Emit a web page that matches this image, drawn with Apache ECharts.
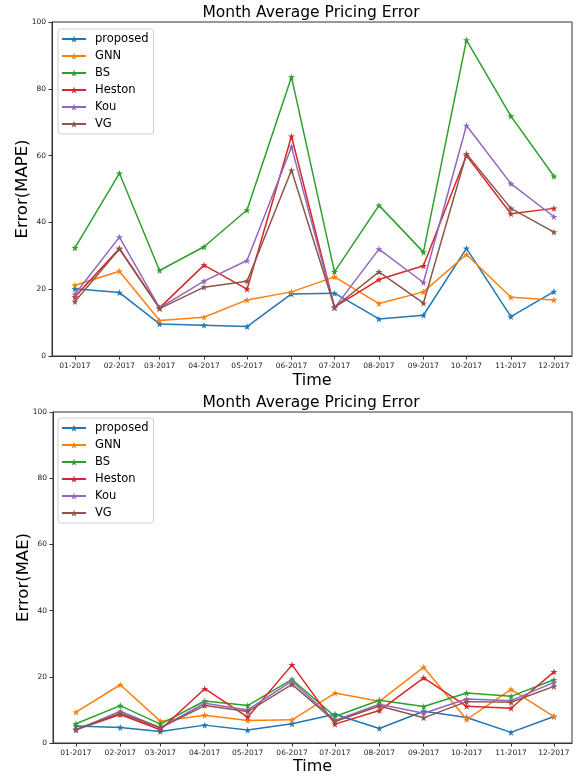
<!DOCTYPE html>
<html>
<head>
<meta charset="utf-8">
<script src="https://cdn.jsdelivr.net/npm/echarts@6/dist/echarts.min.js"></script>
<style>
html,body{margin:0;padding:0;background:#fff;}
#c{width:577px;height:776px;}
</style>
</head>
<body>
<div id="c"></div>
<script>
// ---- data ----
const tickLabels = ['01-2017','02-2017','03-2017','04-2017','05-2017','06-2017','07-2017','08-2017','09-2017','10-2017','11-2017','12-2017'];
const seriesNames = ['proposed','GNN','BS','Heston','Kou','VG'];

// MAPE (top chart)
const mapeProposed = [20.1, 19.0, 9.6, 9.2, 8.8, 18.6, 18.8, 11.1, 12.2, 32.2, 11.8, 19.3];
const mapeGNN      = [21.2, 25.4, 10.6, 11.6, 16.8, 19.2, 23.7, 15.7, 19.2, 30.4, 17.6, 16.8];
const mapeBS       = [32.4, 54.7, 25.6, 32.7, 43.7, 83.5, 25.2, 45.1, 31.1, 94.6, 71.8, 53.8];
const mapeHeston   = [17.7, 32.2, 14.4, 27.2, 20.0, 65.8, 14.6, 22.9, 27.0, 60.0, 42.6, 44.2];
const mapeKou      = [18.5, 35.6, 14.4, 22.4, 28.6, 62.6, 14.4, 32.0, 22.0, 69.0, 51.6, 41.7];
const mapeVG       = [16.3, 32.0, 14.2, 20.6, 22.4, 55.6, 14.6, 25.2, 15.8, 60.5, 44.2, 37.1];

// MAE (bottom chart)
const maeProposed = [5.1, 4.7, 3.5, 5.4, 3.9, 5.8, 8.7, 4.4, 9.6, 7.7, 3.2, 8.0];
const maeGNN      = [9.3, 17.6, 6.6, 8.4, 6.8, 7.0, 15.1, 12.6, 22.9, 7.1, 16.2, 8.0];
const maeBS       = [5.8, 11.3, 5.7, 12.7, 11.3, 19.2, 8.0, 12.9, 11.0, 15.1, 14.1, 19.1];
const maeHeston   = [4.0, 8.6, 4.0, 16.4, 7.8, 23.6, 5.7, 9.8, 19.7, 11.1, 10.5, 21.5];
const maeKou      = [3.9, 9.6, 4.6, 12.0, 10.0, 18.7, 6.8, 11.7, 9.0, 13.3, 12.8, 18.3];
const maeVG       = [4.1, 9.0, 4.6, 11.3, 9.5, 17.7, 6.5, 11.2, 7.6, 12.5, 12.3, 17.1];

const mapeData = [mapeProposed, mapeGNN, mapeBS, mapeHeston, mapeKou, mapeVG];
const maeData  = [maeProposed, maeGNN, maeBS, maeHeston, maeKou, maeVG];

// ---- build ----
const colors = ['#1f77b4','#ff7f0e','#2ca02c','#d62728','#9467bd','#8c564b'];
// day number of the first day of each month (date axis, like matplotlib)
const DAY = 86400000;
const dates = tickLabels.map(l => { const p = l.split('-'); return Math.round(Date.UTC(+p[1], +p[0]-1, 1) / DAY); });
const xMin = dates[0] - 16, xMax = dates[dates.length-1] + 12.6;
const star = 'path://M50,0 L61.2,34.5 L97.6,34.5 L68.2,55.9 L79.4,90.5 L50,69.1 L20.6,90.5 L31.8,55.9 L2.4,34.5 L38.8,34.5 Z';
const FONT = 'DejaVu Sans';
const axisColor = '#333';

function labelFor(v){
  let best = 0, bd = Infinity;
  dates.forEach((d,i)=>{ const dd = Math.abs(d - v); if (dd < bd){ bd = dd; best = i; } });
  return bd < 0.5 ? tickLabels[best] : '';
}

function xAxis(gi, nameGap){
  return {
    type: 'value', gridIndex: gi, min: xMin, max: xMax,
    name: 'Time', nameLocation: 'middle', nameGap: nameGap, nameMoveOverlap: false,
    nameTextStyle: {fontFamily: FONT, fontSize: 16, color: '#000'},
    axisLine: {show: true, lineStyle: {color: axisColor, width: 1}},
    axisTick: {show: true, length: 3.5, lineStyle: {color: axisColor}, customValues: dates},
    axisLabel: {fontFamily: FONT, fontSize: 7.5, color: '#222', margin: 6, customValues: dates,
      formatter: v => labelFor(v), hideOverlap: false},
    splitLine: {show: false}, minorTick: {show: false}
  };
}
function yAxis(gi, name, nameGap){
  return {
    type: 'value', gridIndex: gi, min: 0, max: 100, interval: 20,
    name: name, nameLocation: 'middle', nameGap: nameGap, nameRotate: 90, nameMoveOverlap: false,
    nameTextStyle: {fontFamily: FONT, fontSize: 16.5, color: '#000'},
    axisLine: {show: true, lineStyle: {color: axisColor, width: 1}},
    axisTick: {show: true, length: 3.5, lineStyle: {color: axisColor}},
    axisLabel: {fontFamily: FONT, fontSize: 7.5, color: '#222', margin: 6},
    splitLine: {show: false}
  };
}
function legend(top){
  return {
    left: 58, top: top, orient: 'vertical',
    data: seriesNames,
    itemWidth: 24, itemHeight: 9, itemGap: 5,
    padding: [4, 5, 4, 3],
    backgroundColor: 'rgba(255,255,255,0.8)', borderColor: '#d0d0d0', borderWidth: 1, borderRadius: 3,
    textStyle: {fontFamily: FONT, fontSize: 11.5, color: '#000', padding: [0, 0, 0, 4]},
    selectedMode: false
  };
}
const series = [];
[mapeData, maeData].forEach((set, gi) => {
  set.forEach((vals, si) => {
    series.push({
      type: 'line', name: seriesNames[si], xAxisIndex: gi, yAxisIndex: gi,
      data: vals.map((v, i) => [dates[i], v]),
      symbol: star, symbolSize: 7, showAllSymbol: true,
      lineStyle: {color: colors[si], width: 1.5},
      itemStyle: {color: colors[si]},
      animation: false, silent: true, z: 2 + si
    });
  });
});

const option = {
  backgroundColor: '#fff',
  animation: false,
  color: colors,
  title: [
    {text: 'Month Average Pricing Error', left: 306, top: 0, textAlign: 'center',
      textStyle: {fontFamily: FONT, fontSize: 15.5, fontWeight: 'normal', color: '#000'}},
    {text: 'Month Average Pricing Error', left: 306, top: 390, textAlign: 'center',
      textStyle: {fontFamily: FONT, fontSize: 15.5, fontWeight: 'normal', color: '#000'}}
  ],
  legend: [legend(29), legend(418)],
  grid: [
    {left: 52, top: 22, width: 520, height: 334, show: true, borderColor: axisColor, borderWidth: 1, backgroundColor: 'transparent'},
    {left: 53, top: 412, width: 519, height: 332, show: true, borderColor: axisColor, borderWidth: 1, backgroundColor: 'transparent'}
  ],
  xAxis: [xAxis(0, 17), xAxis(1, 16)],
  yAxis: [yAxis(0, 'Error(MAPE)', 21), yAxis(1, 'Error(MAE)', 21)],
  series: series
};
const chart = echarts.init(document.getElementById('c'), null, {renderer: 'canvas'});
chart.setOption(option);
</script>
</body>
</html>
